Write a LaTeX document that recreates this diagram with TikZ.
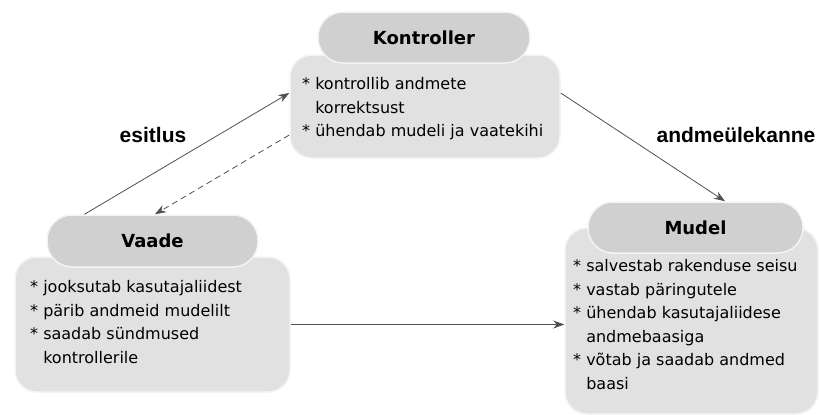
\documentclass[tikz,border=0pt]{standalone}
\usepackage{fontspec}
\setmainfont{DejaVu Sans}
\newfontfamily\labelfont{Liberation Sans}
\usetikzlibrary{arrows.meta}
\definecolor{headfill}{RGB}{208,208,208}
\definecolor{bodyfill}{RGB}{225,225,225}
\definecolor{edgecol}{RGB}{244,244,244}
\definecolor{linecol}{RGB}{80,80,80}
\tikzset{
  bodybox/.style={draw=edgecol, line width=1.5pt, fill=bodyfill, rounded corners=22pt, inner sep=0pt},
  headbox/.style={draw=edgecol, line width=1.5pt, fill=headfill, rounded corners=25pt, inner sep=0pt,
     font=\fontsize{18}{20}\selectfont\bfseries},
  bodytext/.style={anchor=north west, inner sep=0pt, align=left, font=\fontsize{16}{23.5}\selectfont},
  linklabel/.style={inner sep=0pt, font=\labelfont\fontsize{21}{24}\selectfont\bfseries},
  link/.style={draw=linecol, line width=0.8pt, -{Stealth[length=11pt,width=8pt]}},
}
\newcommand{\ind}{\phantom{* }}
\begin{document}
\begin{tikzpicture}[x=1pt,y=-1pt]
\useasboundingbox (0,0) rectangle (820,415);
% bodies
\node[bodybox, minimum width=270pt, minimum height=103pt] (kbody) at (425,106.5) {};
\node[bodybox, minimum width=275pt, minimum height=135pt] (vbody) at (152.5,324.5) {};
\node[bodybox, minimum width=253pt, minimum height=186pt] (mbody) at (691.5,321) {};
% headers
\node[headbox, minimum width=212pt, minimum height=51pt] (khead) at (424,37.5) {Kontroller};
\node[headbox, minimum width=211pt, minimum height=52pt] (vhead) at (152.5,241) {Vaade};
\node[headbox, minimum width=215pt, minimum height=51pt] (mhead) at (695.5,227.5) {Mudel};
% texts
\node[bodytext] (ktext) at (302,77.2) {* kontrollib andmete\\\ind korrektsust\\* ühendab mudeli ja vaatekihi};
\node[bodytext] (vtext) at (30,280.2) {* jooksutab kasutajaliidest\\* pärib andmeid mudelilt\\* saadab sündmused\\\ind kontrollerile};
\node[bodytext] (mtext) at (573,259.2) {* salvestab rakenduse seisu\\* vastab päringutele\\* ühendab kasutajaliidese\\\ind andmebaasiga\\* võtab ja saadab andmed\\\ind baasi};
% labels
\node[linklabel] (lesitlus) at (153,135) {esitlus};
\node[linklabel] (landme) at (736,135) {andmeülekanne};
% connectors
\draw[link] ([xshift=-68pt]vhead.north) -- ([yshift=13.5pt]kbody.west);
\draw[link, dash pattern=on 6pt off 4pt] ([yshift=-28.5pt]kbody.west) -- ([xshift=2.5pt]vhead.north);
\draw[link] ([yshift=13.5pt]kbody.east) -- ([xshift=29.5pt]mhead.north);
\draw[link] (vbody.east) -- (vbody.east -| mbody.west);
\end{tikzpicture}
\end{document}
